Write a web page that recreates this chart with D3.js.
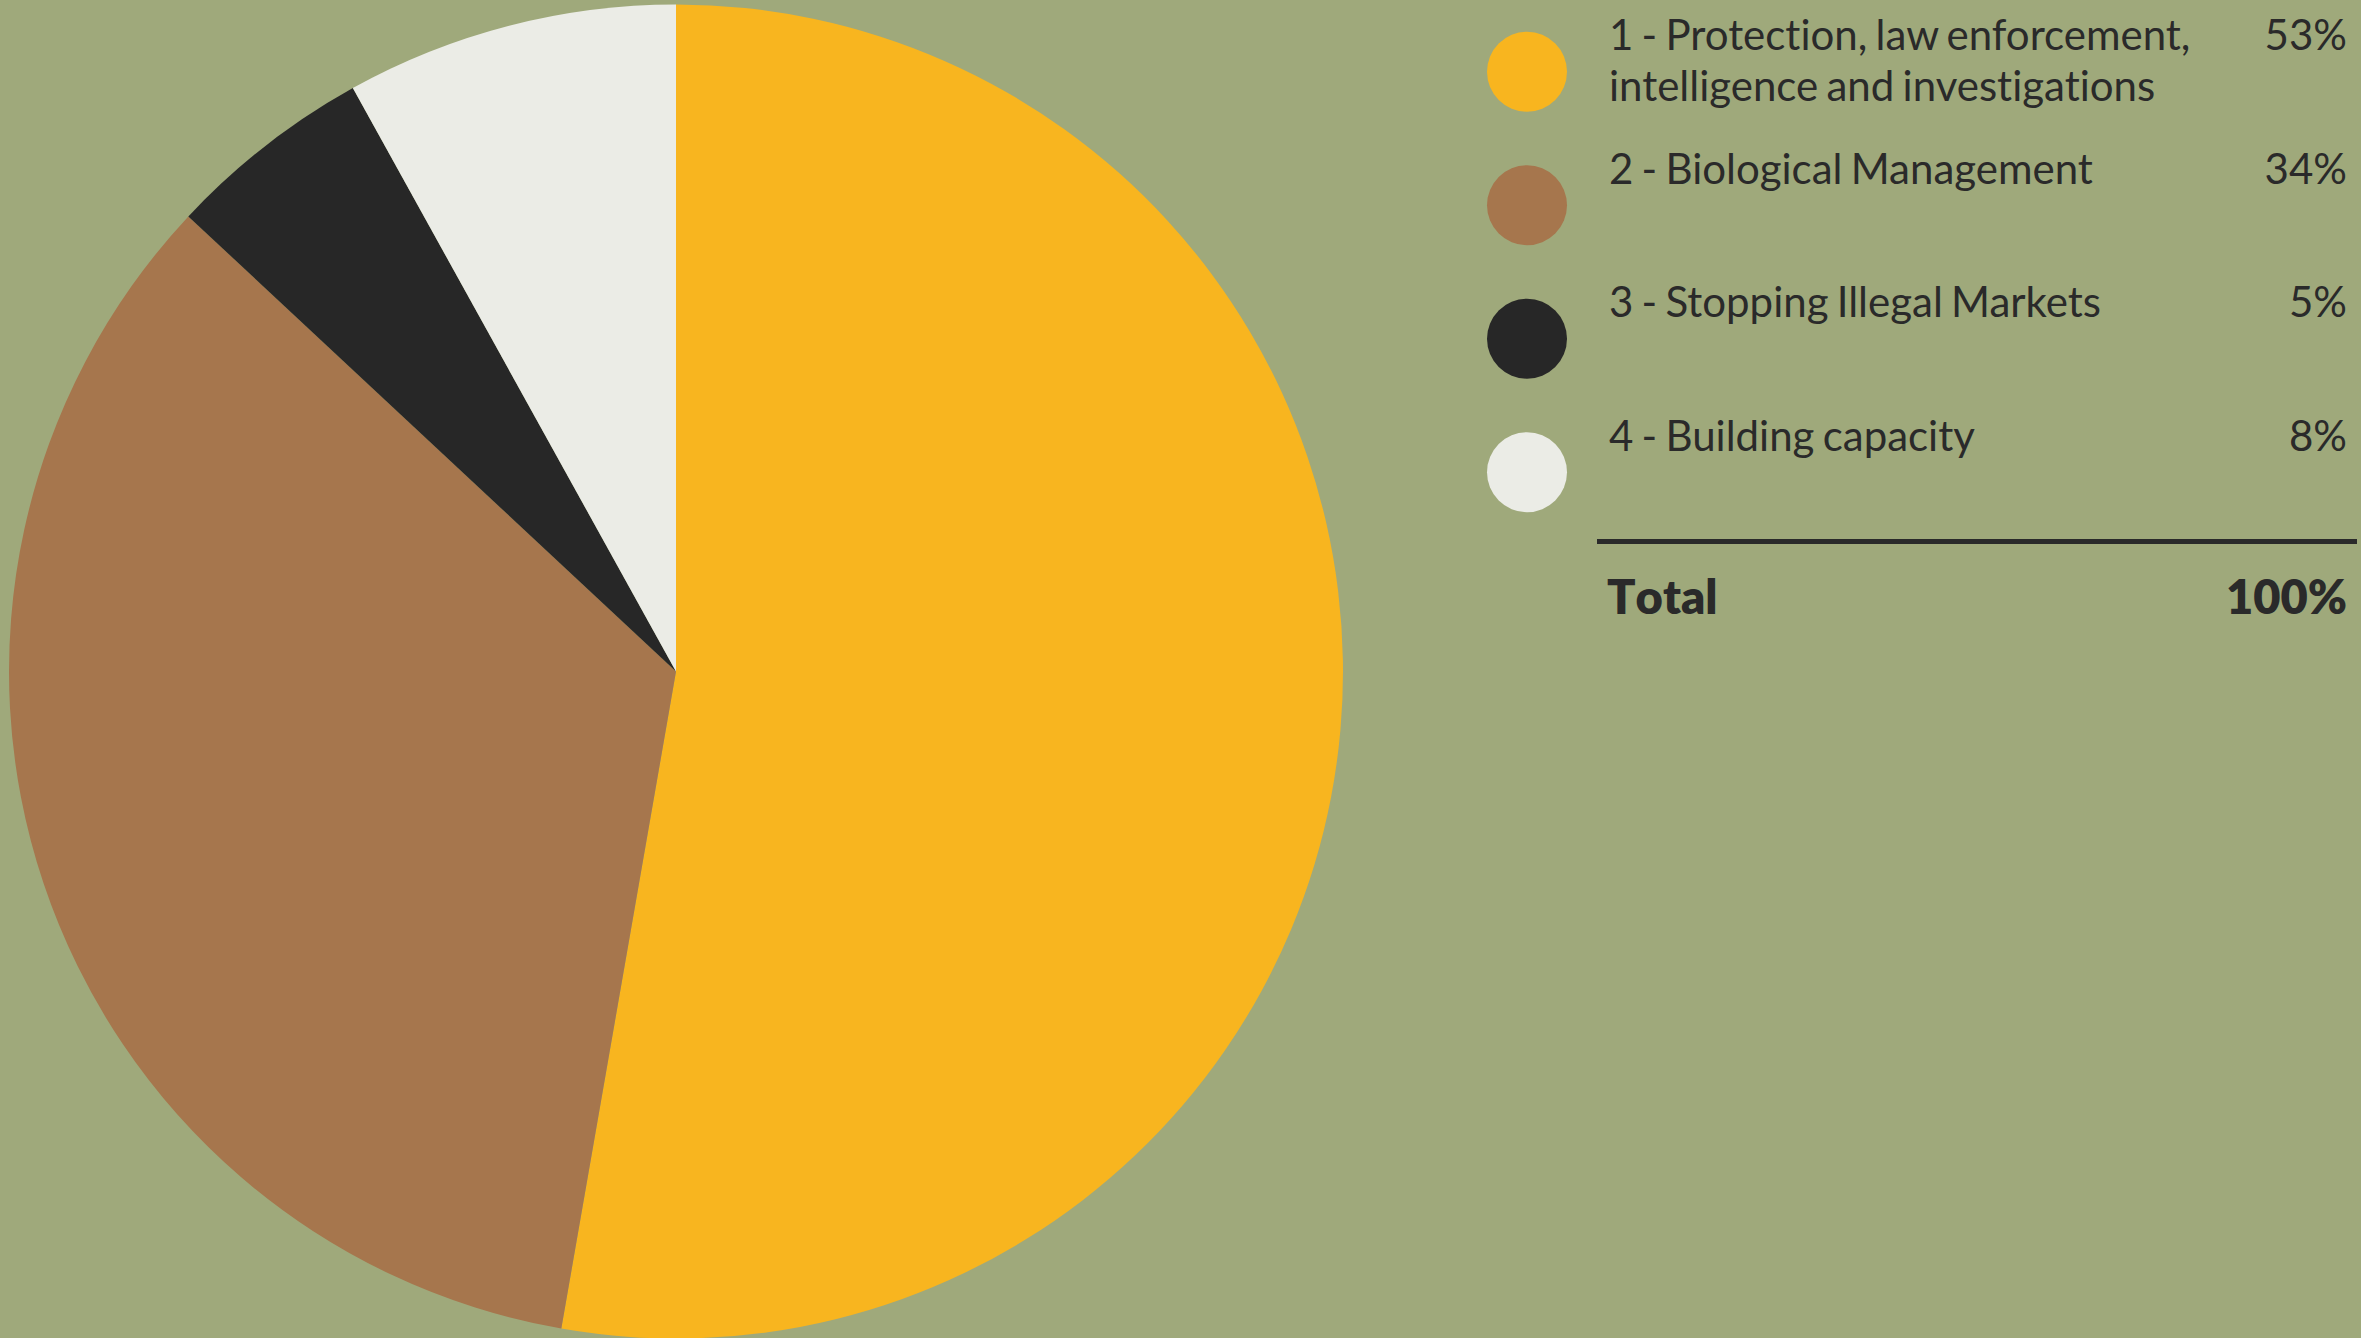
<!DOCTYPE html>
<html>
<head>
<meta charset="utf-8">
<script src="https://cdn.jsdelivr.net/npm/d3@7"></script>
<style>
  html, body { margin: 0; padding: 0; background: #9fa97b; overflow: hidden; }
  svg { display: block; }
  text { font-family: Lato, "Noto Sans", sans-serif; fill: #2a2a2a; font-variant-ligatures: none; }
  text.total { font-kerning: none; }
</style>
</head>
<body>
<svg id="chart" width="2361" height="1338"></svg>
<script>
const categories = [
  ["1 - Protection, law enforcement,", "intelligence and investigations"],
  ["2 - Biological Management"],
  ["3 - Stopping Illegal Markets"],
  ["4 - Building capacity"]
];
// slice shares (labels are rounded)
const values = [52.75, 34.2, 5.0, 8.05];
const percentLabels = ["53%", "34%", "5%", "8%"];
const colors = ["#f8b51f", "#a6764d", "#272727", "#ebece6"];
const totalLabel = "Total";
const totalValue = "100%";

const svg = d3.select("#chart");

// Pie
const cx = 676, cy = 671.5, R = 667;
const pie = d3.pie().sort(null).value(d => d);
const arc = d3.arc().innerRadius(0).outerRadius(R);
const g = svg.append("g").attr("transform", `translate(${cx},${cy})`);
g.selectAll("path")
  .data(pie(values))
  .join("path")
  .attr("d", arc)
  .attr("fill", (d, i) => colors[i]);

// Legend
const y = d3.scaleLinear().domain([0, 1]).range([71.7, 205.2]);
const leg = svg.append("g");
const items = leg.selectAll("g.item")
  .data(values.map((v, i) => ({ v, i })))
  .join("g").attr("class", "item");

items.append("circle")
  .attr("cx", 1527)
  .attr("cy", d => y(d.i))
  .attr("r", 40)
  .attr("fill", d => colors[d.i]);

items.append("text")
  .attr("x", 1609)
  .attr("y", d => y(d.i) - 21.7)
  .attr("font-size", 42)
  .attr("word-spacing", -2.5)
  .each(function(d) {
    const t = d3.select(this);
    categories[d.i].forEach((line, k) => {
      t.append("tspan").attr("x", 1609).attr("dy", k === 0 ? 0 : 51).text(line);
    });
  });

items.append("text")
  .attr("x", 2347)
  .attr("y", d => y(d.i) - 21.7)
  .attr("font-size", 42)
  .attr("text-anchor", "end")
  .text(d => percentLabels[d.i]);

// Divider
leg.append("line")
  .attr("x1", 1597).attr("x2", 2357)
  .attr("y1", 541.5).attr("y2", 541.5)
  .attr("stroke", "#2a2a2a").attr("stroke-width", 5);

leg.append("text")
  .attr("class", "total")
  .attr("x", 1607).attr("y", 614)
  .attr("font-size", 47).attr("font-weight", 800)
  .text(totalLabel);
leg.append("text")
  .attr("class", "total")
  .attr("x", 2347).attr("y", 614)
  .attr("font-size", 47).attr("font-weight", 800)
  .attr("text-anchor", "end")
  .text(totalValue);
</script>
</body>
</html>
